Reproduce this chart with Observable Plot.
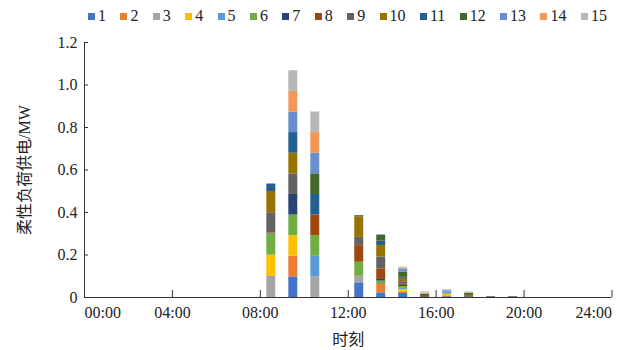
<!DOCTYPE html>
<html>
<head>
<meta charset="utf-8">
<script src="https://cdn.jsdelivr.net/npm/d3@7"></script>
<script src="https://cdn.jsdelivr.net/npm/@observablehq/plot@0.6"></script>
<style>
  body { margin: 0; background: #fff; }
  #legend { display: flex; align-items: center; height: 32px; padding-left: 88px; gap: 14.4px;
    font-family: "Times New Roman", Times, "Liberation Serif", "Nimbus Roman", "Nimbus Roman No9 L", FreeSerif, "Noto Serif", "DejaVu Serif", serif; font-size: 16px; color: #222; box-sizing: border-box; }
  #legend .item { display: flex; align-items: center; }
  #legend .sw { width: 7px; height: 7px; margin-right: 3px; display: inline-block; }
</style>
</head>
<body>
<div id="legend"></div>
<div id="chart"></div>
<script>
const hours = [8, 9, 10, 12, 13, 14, 15, 16, 17, 18, 19];
const seriesNames = ["1","2","3","4","5","6","7","8","9","10","11","12","13","14","15"];
const seriesColors = ["#4472C4","#ED7D31","#A5A5A5","#FFC000","#5B9BD5","#70AD47","#264478","#9E480E","#636363","#997300","#255E91","#43682B","#698ED0","#F1975A","#B7B7B7"];

const s1  = [0,     0.097, 0,     0.069, 0.022, 0.019, 0,     0.004, 0,     0,     0];
const s2  = [0,     0.097, 0,     0,     0.039, 0.005, 0,     0,     0,     0,     0];
const s3  = [0.099, 0,     0.097, 0.031, 0,     0.005, 0,     0,     0,     0,     0];
const s4  = [0.1,   0.097, 0,     0,     0,     0.009, 0,     0.012, 0,     0,     0];
const s5  = [0,     0,     0.097, 0,     0,     0.005, 0,     0.01,  0,     0,     0];
const s6  = [0.1,   0.097, 0.097, 0.066, 0.016, 0.009, 0,     0,     0,     0,     0];
const s7  = [0,     0.097, 0,     0,     0.008, 0.005, 0,     0,     0,     0,     0];
const s8  = [0.005, 0,     0.097, 0.078, 0.05,  0.005, 0,     0,     0,     0,     0];
const s9  = [0.095, 0.097, 0,     0.039, 0.055, 0.009, 0.005, 0,     0.004, 0.004, 0.004];
const s10 = [0.1,   0.097, 0,     0.097, 0.055, 0.019, 0,     0,     0.006, 0,     0];
const s11 = [0.035, 0.097, 0.097, 0.005, 0.02,  0.005, 0,     0,     0,     0,     0];
const s12 = [0,     0,     0.097, 0,     0.027, 0.024, 0.01,  0,     0.01,  0,     0];
const s13 = [0,     0.097, 0.097, 0,     0.003, 0.014, 0,     0.006, 0,     0,     0];
const s14 = [0,     0.097, 0.097, 0,     0,     0.005, 0.006, 0,     0.002, 0,     0];
const s15 = [0,     0.097, 0.097, 0,     0,     0.005, 0.005, 0.004, 0.004, 0,     0];

const xTicks = [0, 4, 8, 12, 16, 20, 24];
const xTickLabels = ["00:00", "04:00", "08:00", "12:00", "16:00", "20:00", "24:00"];
const yTicks = [0, 0.2, 0.4, 0.6, 0.8, 1.0, 1.2];
const yTickLabels = ["0", "0.2", "0.4", "0.6", "0.8", "1.0", "1.2"];

const seriesValues = [s1, s2, s3, s4, s5, s6, s7, s8, s9, s10, s11, s12, s13, s14, s15];
const table = hours.flatMap((h, i) => seriesValues.map((s, k) => ({hour: h, series: seriesNames[k], value: s[i]})));
const xLab = d => xTickLabels[xTicks.indexOf(d)];
const yLab = d => yTickLabels[yTicks.indexOf(d)];

// legend
const legend = document.getElementById("legend");
seriesNames.forEach((n, i) => {
  const it = document.createElement("span"); it.className = "item";
  const sw = document.createElement("span"); sw.className = "sw"; sw.style.background = seriesColors[i];
  const tx = document.createElement("span"); tx.textContent = n;
  it.appendChild(sw); it.appendChild(tx); legend.appendChild(it);
});

const chart = Plot.plot({
  width: 634, height: 318,
  marginTop: 10, marginBottom: 53, marginLeft: 84, marginRight: 22.5,
  style: {fontFamily: "'Times New Roman', Times, 'Liberation Serif', 'Nimbus Roman', FreeSerif, 'Noto Serif', 'DejaVu Serif', serif, 'Noto Sans CJK SC'", fontSize: "16px", color: "#222", background: "#fff"},
  x: {domain: [0, 24]},
  y: {domain: [0, 1.2]},
  color: {domain: seriesNames, range: seriesColors},
  marks: [
    Plot.rectY(table, {x1: "hour", x2: d => d.hour + 1, y: "value", fill: "series", insetLeft: 6.5, insetRight: 6.5}),
    Plot.ruleY([0], {stroke: "#333"}),
    Plot.ruleX([0], {stroke: "#333"}),
    Plot.axisX(xTicks, {tickSize: -7, tickFormat: () => "", label: null, stroke: "#333"}),
    Plot.axisY(yTicks, {tickSize: -4, tickFormat: () => "", label: null, stroke: "#333"}),
    Plot.axisY(yTicks, {tickSize: 0, tickPadding: 7, tickFormat: yLab, label: "柔性负荷供电/MW", labelArrow: "none", labelAnchor: "center", labelOffset: 66, fontSize: 16}),
    Plot.axisX(xTicks.slice(1, -1), {tickSize: 0, tickPadding: 9, tickFormat: xLab, label: "时刻", labelArrow: "none", labelAnchor: "center", labelOffset: 47, fontSize: 16}),
    Plot.text(xTicks.slice(0, 1), {x: d => d, text: xLab, frameAnchor: "bottom", lineAnchor: "top", dy: 9, textAnchor: "start", fontSize: 16}),
    Plot.text(xTicks.slice(-1), {x: d => d, text: xLab, frameAnchor: "bottom", lineAnchor: "top", dy: 9, textAnchor: "end", fontSize: 16})
  ]
});
document.getElementById("chart").appendChild(chart);
</script>
</body>
</html>
